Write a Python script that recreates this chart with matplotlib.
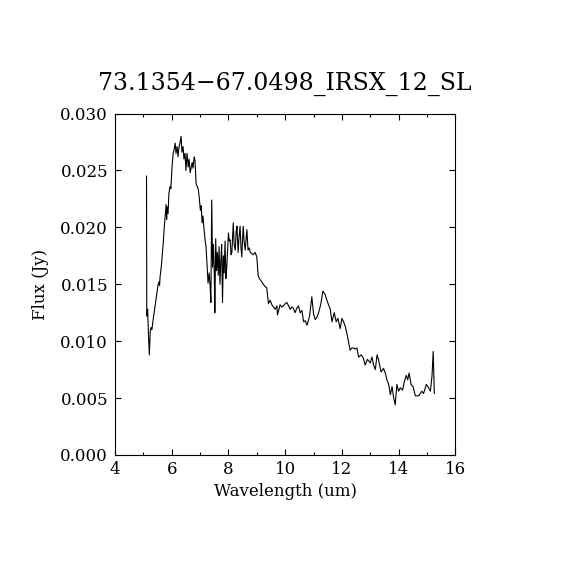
import numpy as np
import matplotlib
matplotlib.use('Agg')
import matplotlib.pyplot as plt
from matplotlib.ticker import MultipleLocator

# spectrum
wavelength = [
    5.11, 5.12, 5.15, 5.18, 5.21, 5.24, 5.27, 5.30, 5.34, 5.38,
    5.41, 5.45, 5.48, 5.52, 5.55, 5.57, 5.59, 5.63, 5.66, 5.70,
    5.73, 5.77, 5.80, 5.82, 5.84, 5.87, 5.90, 5.94, 5.97, 6.01,
    6.05, 6.08, 6.12, 6.15, 6.19, 6.22, 6.26, 6.29, 6.33, 6.36,
    6.40, 6.43, 6.47, 6.50, 6.54, 6.58, 6.61, 6.65, 6.68, 6.72,
    6.75, 6.79, 6.82, 6.86, 6.90, 6.94, 6.97, 7.01, 7.04, 7.07,
    7.10, 7.14, 7.18, 7.21, 7.25, 7.28, 7.32, 7.35, 7.38, 7.41,
    7.44, 7.47, 7.50, 7.52, 7.55, 7.58, 7.61, 7.64, 7.67, 7.70,
    7.73, 7.76, 7.79, 7.82, 7.85, 7.88, 7.91, 7.94, 7.97, 8.00,
    8.03, 8.06, 8.09, 8.12, 8.17, 8.20, 8.24, 8.27, 8.30, 8.34,
    8.37, 8.41, 8.44, 8.47, 8.52, 8.55, 8.59, 8.65, 8.69, 8.73,
    8.77, 8.82, 8.87, 8.94, 9.00, 9.05, 9.12, 9.18, 9.23, 9.29,
    9.35, 9.41, 9.47, 9.53, 9.59, 9.65, 9.71, 9.73, 9.82, 9.88,
    9.94, 10.00, 10.06, 10.12, 10.18, 10.24, 10.29, 10.35, 10.41, 10.47,
    10.53, 10.59, 10.65, 10.71, 10.77, 10.86, 10.94, 11.00, 11.06, 11.12,
    11.18, 11.26, 11.33, 11.41, 11.47, 11.53, 11.59, 11.65, 11.73, 11.80,
    11.86, 11.94, 12.00, 12.06, 12.12, 12.20, 12.29, 12.35, 12.41, 12.47,
    12.53, 12.59, 12.68, 12.76, 12.82, 12.90, 13.00, 13.06, 13.12, 13.18,
    13.24, 13.29, 13.38, 13.47, 13.53, 13.59, 13.65, 13.71, 13.77, 13.82,
    13.88, 13.94, 14.00, 14.06, 14.14, 14.20, 14.27, 14.32, 14.37, 14.44,
    14.51, 14.59, 14.71, 14.82, 14.88, 14.98, 15.06, 15.12, 15.18, 15.22,
    15.26,
]
flux = [
    0.0245, 0.0122, 0.0128, 0.0105, 0.0088, 0.0108, 0.0112, 0.0110, 0.0118, 0.0125,
    0.0130, 0.0137, 0.0143, 0.0150, 0.0152, 0.0149, 0.0157, 0.0165, 0.0174, 0.0186,
    0.0198, 0.0210, 0.0220, 0.0207, 0.0218, 0.0212, 0.0230, 0.0236, 0.0234, 0.0253,
    0.0265, 0.0268, 0.0274, 0.0265, 0.0271, 0.0262, 0.0271, 0.0274, 0.0280, 0.0266,
    0.0271, 0.0260, 0.0265, 0.0250, 0.0265, 0.0253, 0.0260, 0.0248, 0.0252, 0.0257,
    0.0252, 0.0262, 0.0259, 0.0238, 0.0236, 0.0233, 0.0226, 0.0215, 0.0219, 0.0204,
    0.0210, 0.0198, 0.0188, 0.0183, 0.0165, 0.0151, 0.0160, 0.0150, 0.0134, 0.0224,
    0.0165, 0.0185, 0.0160, 0.0125, 0.0190, 0.0162, 0.0178, 0.0158, 0.0183, 0.0150,
    0.0170, 0.0185, 0.0134, 0.0175, 0.0160, 0.0188, 0.0155, 0.0165, 0.0180, 0.0195,
    0.0188, 0.0189, 0.0176, 0.0178, 0.0204, 0.0185, 0.0180, 0.0196, 0.0201, 0.0178,
    0.0190, 0.0201, 0.0183, 0.0174, 0.0201, 0.0188, 0.0180, 0.0198, 0.0180, 0.0182,
    0.0178, 0.0177, 0.0176, 0.0178, 0.0174, 0.0157, 0.0154, 0.0152, 0.0150, 0.0148,
    0.0147, 0.0133, 0.0136, 0.0132, 0.0130, 0.0128, 0.0131, 0.0123, 0.0132, 0.0130,
    0.0131, 0.0133, 0.0134, 0.0131, 0.0128, 0.0130, 0.0129, 0.0125, 0.0129, 0.0131,
    0.0125, 0.0127, 0.0117, 0.0118, 0.0114, 0.0122, 0.0139, 0.0124, 0.0119, 0.0121,
    0.0125, 0.0133, 0.0144, 0.0141, 0.0136, 0.0132, 0.0128, 0.0117, 0.0125, 0.0117,
    0.0120, 0.0111, 0.0120, 0.0117, 0.0113, 0.0104, 0.0092, 0.0094, 0.0094, 0.0093,
    0.0094, 0.0086, 0.0088, 0.0085, 0.0079, 0.0084, 0.0081, 0.0086, 0.0079, 0.0075,
    0.0088, 0.0084, 0.0073, 0.0076, 0.0072, 0.0066, 0.0062, 0.0053, 0.0060, 0.0051,
    0.0044, 0.0062, 0.0056, 0.0059, 0.0057, 0.0064, 0.0070, 0.0066, 0.0072, 0.0062,
    0.0060, 0.0052, 0.0052, 0.0056, 0.0054, 0.0062, 0.0059, 0.0056, 0.0070, 0.0091,
    0.0054,
]

title = '73.1354\u221267.0498_IRSX_12_SL'
xticks = [4, 6, 8, 10, 12, 14, 16]
yticks = [0.000, 0.005, 0.010, 0.015, 0.020, 0.025, 0.030]

plt.rcParams['font.family'] = ['DejaVu Serif']
plt.rcParams['axes.linewidth'] = 0.8

fig = plt.figure(figsize=(5.7, 5.7), dpi=100)
ax = fig.add_axes([0.2018, 0.2018, 0.597, 0.599])
ax.plot(wavelength, flux, color='black', linewidth=0.8)

ax.set_xlim(4, 16)
ax.set_ylim(0, 0.030)
ax.set_xticks(xticks)
ax.set_yticks(yticks)
ax.set_yticklabels([f'{v:.3f}' for v in yticks])
ax.xaxis.set_minor_locator(MultipleLocator(1))
ax.tick_params(which='both', direction='in', top=True, right=True, labelsize=12)
ax.tick_params(which='major', length=4, width=0.8)
ax.tick_params(which='minor', length=2, width=0.8)
ax.tick_params(axis='x', pad=4)
ax.tick_params(axis='y', pad=5)

ax.set_xlabel('Wavelength (um)', fontsize=12, labelpad=4)
ax.set_ylabel('Flux (Jy)', fontsize=12, labelpad=8)
ax.set_title(title, fontsize=17, pad=17)

fig.savefig('out.png', dpi=100)
